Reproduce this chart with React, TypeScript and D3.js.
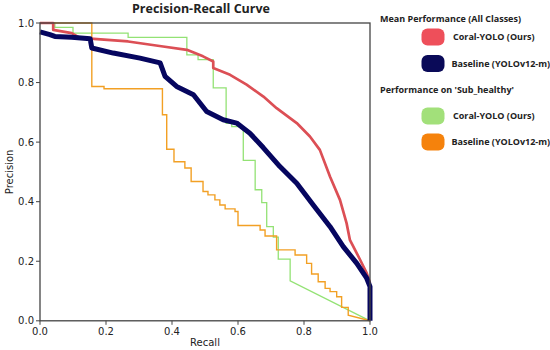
import React from "react";
import * as d3 from "d3";

// Mean performance – Coral-YOLO (Ours)
const redRecall = [0, 0.04, 0.04, 0.096, 0.121, 0.267, 0.373, 0.445, 0.494, 0.525, 0.525, 0.576, 0.626, 0.677, 0.717, 0.778, 0.818, 0.848, 0.879, 0.909, 0.929, 0.939, 0.97, 0.99, 1.0];
const redPrecision = [1.0, 1.0, 0.977, 0.966, 0.95, 0.938, 0.921, 0.91, 0.888, 0.871, 0.849, 0.826, 0.793, 0.753, 0.714, 0.664, 0.619, 0.574, 0.484, 0.406, 0.328, 0.272, 0.205, 0.16, 0.127];

// Mean performance – Baseline (YOLOv12-m)
const navyRecall = [0, 0.03, 0.045, 0.096, 0.152, 0.157, 0.222, 0.303, 0.364, 0.379, 0.414, 0.465, 0.505, 0.555, 0.596, 0.636, 0.677, 0.727, 0.778, 0.828, 0.879, 0.919, 0.96, 0.99, 1.0, 1.0];
const navyPrecision = [0.97, 0.961, 0.955, 0.952, 0.947, 0.916, 0.899, 0.882, 0.866, 0.821, 0.787, 0.759, 0.703, 0.675, 0.664, 0.63, 0.581, 0.518, 0.462, 0.389, 0.316, 0.249, 0.193, 0.143, 0.115, 0.0];

// Sub_healthy – Coral-YOLO (Ours): step levels
const greenRecall = [0, 0.045, 0.1, 0.267, 0.445, 0.479, 0.525, 0.564, 0.581, 0.616, 0.652, 0.672, 0.687, 0.707, 0.722, 0.758];
const greenPrecision = [1.0, 0.985, 0.966, 0.952, 0.893, 0.877, 0.782, 0.663, 0.652, 0.539, 0.44, 0.397, 0.316, 0.281, 0.207, 0.134];

// Sub_healthy – Baseline (YOLOv12-m): step levels
const orangeRecall = [0, 0.157, 0.194, 0.371, 0.384, 0.406, 0.439, 0.458, 0.494, 0.509, 0.53, 0.545, 0.561, 0.591, 0.6, 0.667, 0.682, 0.717, 0.773, 0.808, 0.823, 0.843, 0.864, 0.879, 0.899, 0.914, 0.934];
const orangePrecision = [1.0, 0.787, 0.779, 0.692, 0.576, 0.534, 0.513, 0.468, 0.434, 0.423, 0.406, 0.389, 0.376, 0.367, 0.32, 0.305, 0.285, 0.238, 0.221, 0.193, 0.157, 0.131, 0.109, 0.098, 0.081, 0.045, 0.019];

const stepTail: [number, number] = [1.0, 0.0];

const ticks = [0, 0.2, 0.4, 0.6, 0.8, 1.0];
const tickLabels = ["0.0", "0.2", "0.4", "0.6", "0.8", "1.0"];

const COLORS = {
  red: "#dc4f55",
  navy: "#06065f",
  green: "#93e274",
  orange: "#f2a024",
  redLegend: "#ee4f5a",
  navyLegend: "#0a0a58",
  greenLegend: "#a2e07a",
  orangeLegend: "#f5820c",
};

function stepCorners(rs: number[], ps: number[], tail: [number, number]): [number, number][] {
  const pts: [number, number][] = [];
  for (let i = 0; i < rs.length; i++) {
    pts.push([rs[i], ps[i]]);
    if (i < rs.length - 1) pts.push([rs[i + 1], ps[i]]);
  }
  pts.push(tail);
  return pts;
}

export default function App() {
  const W = 550, H = 350;
  const left = 40, right = 370, top = 23, bottom = 320.8;
  const x = d3.scaleLinear().domain([0, 1]).range([left, right]);
  const y = d3.scaleLinear().domain([0, 1]).range([bottom, top]);
  const line = d3.line<[number, number]>().x((d) => x(d[0])).y((d) => y(d[1]));

  const redPts = redRecall.map((r, i) => [r, redPrecision[i]] as [number, number]);
  const navyPts = navyRecall.map((r, i) => [r, navyPrecision[i]] as [number, number]);
  const greenPts = stepCorners(greenRecall, greenPrecision, stepTail);
  const orangePts = stepCorners(orangeRecall, orangePrecision, stepTail);

  const tickFont = "DejaVu Sans, sans-serif";
  const legFont = "Open Sans, Noto Sans, sans-serif";

  const legendItems = [
    { label: "Coral-YOLO (Ours)", color: COLORS.redLegend, y: 28.5, tx: 453 },
    { label: "Baseline (YOLOv12-m)", color: COLORS.navyLegend, y: 55, tx: 451.5 },
    { label: "Coral-YOLO (Ours)", color: COLORS.greenLegend, y: 107.5, tx: 453 },
    { label: "Baseline (YOLOv12-m)", color: COLORS.orangeLegend, y: 133.5, tx: 451.5 },
  ];

  return (
    <svg width={W} height={H} style={{ position: "absolute", left: 0, top: 0, background: "#fff" }}>
      <rect x={0} y={0} width={W} height={H} fill="#fff" />
      <defs>
        <clipPath id="plotclip">
          <rect x={left - 3} y={top - 3} width={right - left + 6} height={bottom - top + 6} />
        </clipPath>
      </defs>
      <text x={201} y={13} textAnchor="middle" fontFamily={legFont} fontWeight="bold" fontSize={12.5} fill="#222">
        Precision-Recall Curve
      </text>

      <g clipPath="url(#plotclip)">
        <path d={line(greenPts) || ""} fill="none" stroke={COLORS.green} strokeWidth={1.3} />
        <path d={line(orangePts) || ""} fill="none" stroke={COLORS.orange} strokeWidth={1.4} />
        <path d={line(redPts) || ""} fill="none" stroke={COLORS.red} strokeWidth={2.7} strokeLinejoin="round" />
        <path d={line(navyPts) || ""} fill="none" stroke={COLORS.navy} strokeWidth={5} strokeLinejoin="round" />
      </g>

      {/* frame */}
      <rect x={left} y={top} width={right - left} height={bottom - top} fill="none" stroke="#444" strokeWidth={1.3} />

      {ticks.map((t, i) => (
        <g key={"x" + i}>
          <line x1={x(t)} x2={x(t)} y1={bottom} y2={bottom + 4} stroke="#444" strokeWidth={1} />
          <text x={x(t)} y={bottom + 14} textAnchor="middle" fontFamily={tickFont} fontSize={10} fill="#222">
            {tickLabels[i]}
          </text>
        </g>
      ))}
      {ticks.map((t, i) => (
        <g key={"y" + i}>
          <line x1={left - 4} x2={left} y1={y(t)} y2={y(t)} stroke="#444" strokeWidth={1} />
          <text x={left - 6} y={y(t) + 3.5} textAnchor="end" fontFamily={tickFont} fontSize={10} fill="#222">
            {tickLabels[i]}
          </text>
        </g>
      ))}
      <text x={205} y={346} textAnchor="middle" fontFamily={tickFont} fontSize={10} fill="#222">
        Recall
      </text>
      <text transform={`translate(13,${(top + bottom) / 2}) rotate(-90)`} textAnchor="middle" fontFamily={tickFont} fontSize={10} fill="#222">
        Precision
      </text>

      {/* legend */}
      <text x={380} y={22} fontFamily={legFont} fontWeight="bold" fontSize={9} fill="#222">
        Mean Performance (All Classes)
      </text>
      <text x={380} y={93} fontFamily={legFont} fontWeight="bold" fontSize={9} fill="#222">
        Performance on 'Sub_healthy'
      </text>
      {legendItems.map((it, i) => (
        <g key={"l" + i}>
          <rect x={421.5} y={it.y} width={23} height={17} rx={6} fill={it.color} />
          <text x={it.tx} y={it.y + 11.5} fontFamily={legFont} fontWeight="bold" fontSize={9} fill="#222">
            {it.label}
          </text>
        </g>
      ))}
    </svg>
  );
}
